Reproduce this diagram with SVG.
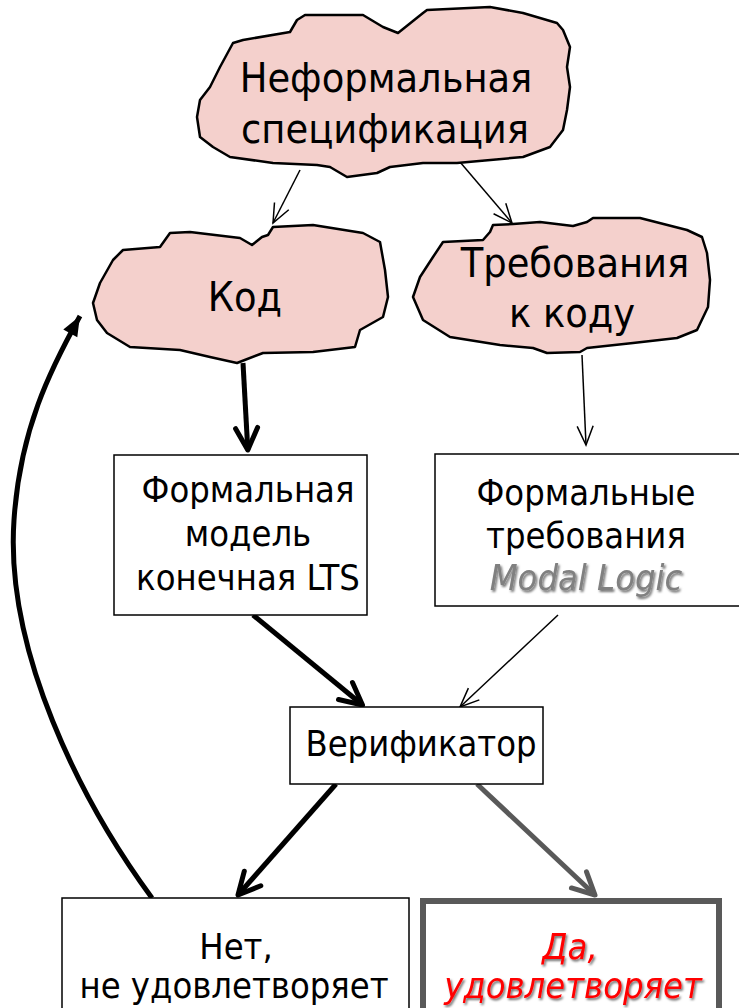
<svg xmlns="http://www.w3.org/2000/svg" width="739" height="1008" viewBox="0 0 739 1008">
<style>
.cloud{fill:#F4D0CC;stroke:#000;stroke-width:2.5;stroke-linejoin:round}
.box{fill:#fff;stroke:#000;stroke-width:1.5}
.t{font-family:"DejaVu Sans Condensed","DejaVu Sans",sans-serif;fill:#000;text-anchor:middle}
.big{font-size:41px}
.med{font-size:36px}
.thin{fill:none;stroke:#000;stroke-width:1.5}
.thick{fill:none;stroke:#000;stroke-width:5}
.grey{fill:none;stroke:#595959;stroke-width:5}
</style>
<defs>
<marker id="vthin" markerUnits="userSpaceOnUse" markerWidth="40" markerHeight="40" viewBox="-30 -20 40 40" refX="0" refY="0" orient="auto">
<path d="M-19,-8 L0,0 L-19,8" fill="none" stroke="#000" stroke-width="1.5"/>
</marker>
<marker id="vthick" markerUnits="userSpaceOnUse" markerWidth="50" markerHeight="50" viewBox="-40 -25 50 50" refX="0" refY="0" orient="auto">
<path d="M-22,-11 L0,0 L-22,11" fill="none" stroke="#000" stroke-width="5" stroke-linecap="round" stroke-linejoin="round"/>
</marker>
<marker id="vgrey" markerUnits="userSpaceOnUse" markerWidth="50" markerHeight="50" viewBox="-40 -25 50 50" refX="0" refY="0" orient="auto">
<path d="M-22,-11 L0,0 L-22,11" fill="none" stroke="#595959" stroke-width="5" stroke-linecap="round" stroke-linejoin="round"/>
</marker>
<marker id="tri" markerUnits="userSpaceOnUse" markerWidth="40" markerHeight="40" viewBox="-30 -20 40 40" refX="0" refY="0" orient="auto">
<path d="M-20,-8 L0,0 L-20,8 z" fill="#000"/>
</marker>
<filter id="sh" x="-10%" y="-20%" width="130%" height="150%">
<feDropShadow dx="1.5" dy="2" stdDeviation="1.2" flood-color="#000" flood-opacity="0.55"/>
</filter>
</defs>

<g id="connectors">
<line class="thin" x1="300" y1="170" x2="273" y2="223" marker-end="url(#vthin)"/>
<line class="thin" x1="460" y1="162" x2="512" y2="223" marker-end="url(#vthin)"/>
<line class="thick" x1="243" y1="363" x2="247.8" y2="450" marker-end="url(#vthick)"/>
<line class="thin" x1="582" y1="355" x2="586" y2="445" marker-end="url(#vthin)"/>
<line class="thick" x1="253" y1="615" x2="362.5" y2="705" marker-end="url(#vthick)"/>
<line class="thin" x1="558" y1="615" x2="460" y2="707" marker-end="url(#vthin)"/>
<line class="thick" x1="336" y1="784" x2="238" y2="895" marker-end="url(#vthick)"/>
<line class="grey" x1="477" y1="784" x2="595" y2="895" marker-end="url(#vgrey)"/>
<path class="thick" d="M152,898 C80,800 5,650 14,520 C20,430 50,370 80,316" marker-end="url(#tri)"/>
</g>

<g id="informal-spec">
<path class="cloud" d="M233,43 L243,40 L290,32 L297,20 L305,15 L363,15 L383,27 L398,33 L423,13 L427,10 L490,7 L523,13 L557,23 L563,30 L570,47 L567,67 L570,87 L567,110 L563,130 L550,147 L523,157 L457,163 L423,163 L390,167 L377,173 L347,177 L330,167 L317,165 L273,163 L230,157 L213,147 L200,137 L197,117 L200,100 L210,87 L220,67 Z"/>
<text class="t big" x="386" y="92">Неформальная</text>
<text class="t big" x="385" y="143">спецификация</text>
</g>

<g id="code">
<path class="cloud" d="M123,250 L160,247 L170,233 L190,232 L240,238 L252,245 L262,237 L268,235 L273,227 L313,225 L363,233 L380,242 L385,270 L388,297 L383,317 L360,330 L355,347 L313,352 L263,353 L237,363 L210,357 L180,350 L130,347 L107,333 L97,320 L93,303 L100,283 L113,260 Z"/>
<text class="t big" x="245" y="311">Код</text>
</g>

<g id="code-requirements">
<path class="cloud" d="M443,242 L483,240 L490,232 L493,225 L513,224 L540,222 L573,226 L587,222 L593,218 L640,218 L687,230 L702,237 L707,253 L710,280 L708,307 L697,330 L677,338 L633,343 L587,348 L580,352 L547,353 L533,348 L500,345 L450,337 L423,320 L413,297 L420,277 L433,257 Z"/>
<text class="t big" x="575" y="277">Требования</text>
<text class="t big" x="572" y="327">к коду</text>
</g>

<g id="formal-model">
<rect class="box" x="114" y="455" width="253" height="160"/>
<text class="t med" x="248" y="502">Формальная</text>
<text class="t med" x="248" y="546">модель</text>
<text class="t med" x="248" y="590">конечная LTS</text>
</g>

<g id="formal-requirements">
<rect class="box" x="435" y="454" width="310" height="152"/>
<text class="t med" x="586" y="505">Формальные</text>
<text class="t med" x="586" y="548">требования</text>
<text class="t med" x="586" y="590" style="font-style:italic;fill:#808080" filter="url(#sh)">Modal Logic</text>
</g>

<g id="verifier">
<rect class="box" x="290" y="707" width="253" height="77"/>
<text class="t med" x="421" y="756">Верификатор</text>
</g>

<g id="no">
<rect class="box" x="62" y="898" width="347" height="130"/>
<text class="t med" x="236" y="959">Нет,</text>
<text class="t med" x="234" y="998">не удовлетворяет</text>
</g>

<g id="yes">
<rect x="423" y="901" width="296" height="130" fill="#fff" stroke="#595959" stroke-width="6"/>
<text class="t med" x="570" y="959" style="font-style:italic;fill:#FF0000" filter="url(#sh)">Да,</text>
<text class="t med" x="573" y="998" style="font-style:italic;fill:#FF0000" filter="url(#sh)">удовлетворяет</text>
</g>
</svg>
